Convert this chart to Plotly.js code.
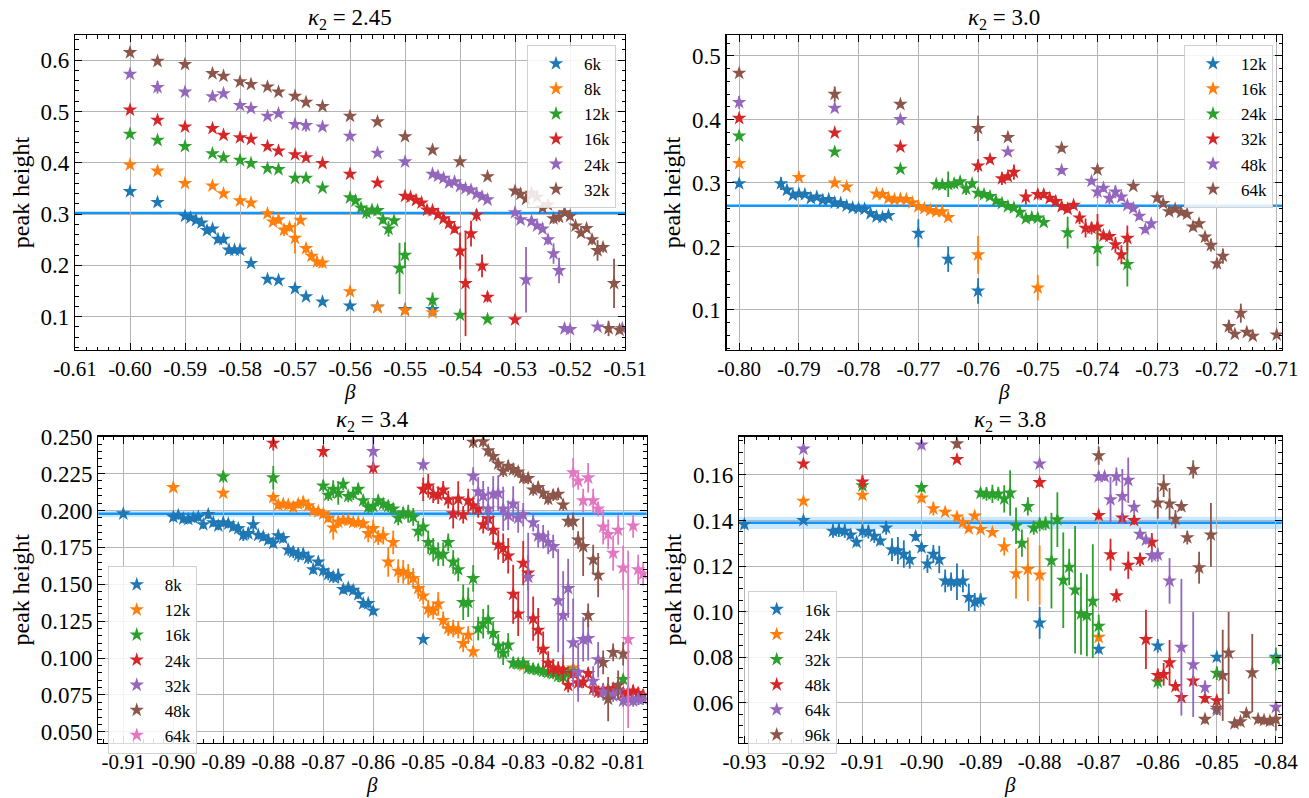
<!DOCTYPE html>
<html>
<head>
<meta charset="utf-8">
<script src="https://cdn.plot.ly/plotly-3.0.1.min.js"></script>
<style>html,body{margin:0;padding:0;background:#fff;}#chart{width:1309px;height:798px;}</style>
</head>
<body>
<div id="chart"></div>
<script>
// ---------------- data ----------------
const COLORS = ['#1f77b4','#ff7f0e','#2ca02c','#d62728','#9467bd','#8c564b','#e377c2'];

// Panel A : kappa2 = 2.45
const A_title = '<i>κ</i><sub>2</sub> = 2.45';
const A_labels = ['6k','8k','12k','16k','24k','32k'];
const A_ref = 0.302, A_refErr = 0.0015;
const A_6k_x = [-0.600,-0.595,-0.590,-0.589,-0.588,-0.587,-0.586,-0.585,-0.584,-0.583,-0.582,-0.581,-0.580,-0.578,-0.575,-0.573,-0.570,-0.568,-0.565,-0.560,-0.555,-0.550,-0.545];
const A_6k_y = [0.344,0.323,0.296,0.293,0.288,0.283,0.268,0.271,0.251,0.251,0.230,0.230,0.230,0.204,0.173,0.171,0.155,0.139,0.129,0.121,0.119,0.114,0.114];
const A_6k_e = [0.004,0.004,0.005,0.005,0.006,0.006,0.006,0.006,0.008,0.008,0.008,0.007,0.007,0.005,0.005,0.005,0.004,0.004,0.004,0.004,0.004,0.004,0.008];
const A_8k_x = [-0.600,-0.595,-0.590,-0.585,-0.583,-0.580,-0.578,-0.575,-0.574,-0.573,-0.572,-0.571,-0.570,-0.569,-0.568,-0.567,-0.566,-0.565,-0.560,-0.555,-0.550,-0.545];
const A_8k_y = [0.396,0.384,0.360,0.355,0.340,0.326,0.322,0.301,0.285,0.289,0.269,0.274,0.253,0.288,0.233,0.218,0.207,0.205,0.149,0.118,0.112,0.108];
const A_8k_e = [0.004,0.004,0.005,0.004,0.004,0.004,0.004,0.005,0.006,0.008,0.012,0.008,0.030,0.006,0.010,0.008,0.010,0.010,0.004,0.004,0.004,0.006];
const A_12k_x = [-0.600,-0.595,-0.590,-0.585,-0.583,-0.580,-0.578,-0.575,-0.573,-0.570,-0.568,-0.565,-0.560,-0.559,-0.558,-0.557,-0.556,-0.555,-0.554,-0.553,-0.552,-0.551,-0.550,-0.545,-0.540,-0.535];
const A_12k_y = [0.456,0.444,0.432,0.418,0.410,0.405,0.399,0.389,0.387,0.370,0.370,0.351,0.332,0.326,0.312,0.303,0.308,0.307,0.289,0.271,0.287,0.194,0.220,0.132,0.103,0.095];
const A_12k_e = [0.004,0.004,0.004,0.004,0.004,0.004,0.004,0.004,0.004,0.004,0.004,0.004,0.004,0.004,0.006,0.012,0.006,0.006,0.008,0.015,0.006,0.050,0.025,0.015,0.005,0.004];
const A_16k_x = [-0.600,-0.595,-0.590,-0.585,-0.583,-0.580,-0.578,-0.575,-0.573,-0.570,-0.568,-0.565,-0.560,-0.555,-0.550,-0.549,-0.548,-0.547,-0.546,-0.545,-0.544,-0.543,-0.542,-0.541,-0.540,-0.539,-0.538,-0.537,-0.536,-0.535,-0.530];
const A_16k_y = [0.503,0.483,0.470,0.467,0.454,0.449,0.446,0.432,0.423,0.416,0.410,0.399,0.378,0.361,0.335,0.333,0.327,0.322,0.308,0.307,0.299,0.291,0.282,0.271,0.228,0.165,0.262,0.298,0.199,0.138,0.094];
const A_16k_e = [0.005,0.004,0.004,0.004,0.004,0.004,0.004,0.004,0.004,0.004,0.004,0.004,0.004,0.004,0.005,0.005,0.005,0.005,0.006,0.006,0.006,0.006,0.007,0.008,0.036,0.103,0.025,0.012,0.022,0.010,0.005];
const A_24k_x = [-0.600,-0.595,-0.590,-0.585,-0.583,-0.580,-0.578,-0.575,-0.573,-0.570,-0.568,-0.565,-0.560,-0.555,-0.550,-0.545,-0.544,-0.543,-0.542,-0.541,-0.540,-0.539,-0.538,-0.537,-0.536,-0.535,-0.530,-0.529,-0.528,-0.527,-0.526,-0.525,-0.524,-0.523,-0.522,-0.521,-0.520,-0.515,-0.5105];
const A_24k_y = [0.573,0.547,0.538,0.529,0.535,0.512,0.506,0.491,0.496,0.475,0.473,0.470,0.452,0.419,0.402,0.378,0.374,0.370,0.361,0.363,0.354,0.350,0.347,0.339,0.334,0.328,0.303,0.289,0.172,0.286,0.277,0.271,0.250,0.223,0.190,0.077,0.075,0.080,0.077];
const A_24k_e = [0.005,0.012,0.005,0.008,0.005,0.005,0.006,0.005,0.005,0.005,0.012,0.005,0.004,0.004,0.005,0.005,0.004,0.004,0.004,0.004,0.004,0.004,0.004,0.004,0.004,0.004,0.005,0.006,0.064,0.005,0.005,0.006,0.010,0.020,0.025,0.004,0.004,0.004,0.004];
const A_32k_x = [-0.600,-0.595,-0.590,-0.585,-0.583,-0.580,-0.578,-0.575,-0.573,-0.570,-0.568,-0.565,-0.560,-0.555,-0.550,-0.545,-0.540,-0.535,-0.530,-0.529,-0.528,-0.527,-0.526,-0.525,-0.524,-0.523,-0.522,-0.521,-0.520,-0.519,-0.518,-0.517,-0.516,-0.515,-0.514,-0.513,-0.512,-0.511];
const A_32k_y = [0.615,0.598,0.592,0.574,0.569,0.558,0.553,0.548,0.538,0.530,0.518,0.510,0.491,0.480,0.451,0.425,0.402,0.373,0.345,0.339,0.329,0.341,0.333,0.312,0.318,0.291,0.294,0.303,0.296,0.277,0.263,0.272,0.250,0.229,0.235,0.077,0.165,0.074];
const A_32k_e = [0.004,0.004,0.004,0.004,0.004,0.004,0.004,0.004,0.004,0.004,0.004,0.004,0.004,0.004,0.004,0.004,0.004,0.004,0.005,0.004,0.004,0.004,0.004,0.006,0.005,0.010,0.010,0.006,0.006,0.006,0.006,0.006,0.010,0.020,0.010,0.015,0.048,0.006];

// Panel B : kappa2 = 3.0
const B_title = '<i>κ</i><sub>2</sub> = 3.0';
const B_labels = ['12k','16k','24k','32k','48k','64k'];
const B_ref = 0.2643, B_refErr = 0.0015;
const B_12k_x = [-0.800,-0.793,-0.792,-0.791,-0.790,-0.789,-0.788,-0.787,-0.786,-0.785,-0.784,-0.783,-0.782,-0.781,-0.780,-0.779,-0.778,-0.777,-0.776,-0.775,-0.770,-0.765,-0.760];
const B_12k_y = [0.299,0.299,0.289,0.281,0.283,0.282,0.276,0.278,0.273,0.274,0.269,0.268,0.264,0.261,0.260,0.259,0.252,0.247,0.246,0.249,0.221,0.180,0.130];
const B_12k_e = [0.005,0.010,0.006,0.004,0.004,0.004,0.004,0.004,0.004,0.004,0.004,0.004,0.004,0.004,0.004,0.004,0.004,0.004,0.004,0.004,0.022,0.020,0.020];
const B_16k_x = [-0.800,-0.790,-0.784,-0.782,-0.777,-0.776,-0.775,-0.774,-0.773,-0.772,-0.771,-0.770,-0.769,-0.768,-0.767,-0.766,-0.765,-0.760,-0.750];
const B_16k_y = [0.331,0.309,0.300,0.294,0.283,0.282,0.276,0.274,0.275,0.274,0.269,0.263,0.260,0.257,0.255,0.255,0.246,0.187,0.135];
const B_16k_e = [0.005,0.005,0.005,0.004,0.004,0.004,0.004,0.004,0.004,0.004,0.004,0.004,0.004,0.004,0.004,0.004,0.004,0.030,0.020];
const B_24k_x = [-0.800,-0.784,-0.773,-0.767,-0.766,-0.765,-0.764,-0.763,-0.762,-0.761,-0.760,-0.759,-0.758,-0.757,-0.756,-0.755,-0.754,-0.753,-0.752,-0.751,-0.750,-0.749,-0.745,-0.740,-0.735];
const B_24k_y = [0.374,0.349,0.322,0.298,0.297,0.298,0.299,0.302,0.291,0.299,0.284,0.282,0.279,0.272,0.268,0.263,0.261,0.254,0.244,0.246,0.245,0.238,0.222,0.197,0.172];
const B_24k_e = [0.004,0.004,0.004,0.008,0.006,0.020,0.008,0.006,0.010,0.006,0.004,0.004,0.004,0.004,0.004,0.004,0.004,0.004,0.005,0.005,0.005,0.004,0.025,0.028,0.035];
const B_32k_x = [-0.800,-0.784,-0.773,-0.760,-0.758,-0.756,-0.755,-0.754,-0.752,-0.750,-0.749,-0.748,-0.747,-0.746,-0.745,-0.744,-0.743,-0.742,-0.741,-0.740,-0.739,-0.738,-0.737,-0.736,-0.735];
const B_32k_y = [0.402,0.379,0.357,0.327,0.337,0.307,0.310,0.317,0.278,0.282,0.282,0.276,0.271,0.263,0.259,0.265,0.245,0.229,0.229,0.231,0.217,0.216,0.203,0.187,0.213];
const B_32k_e = [0.004,0.005,0.005,0.010,0.005,0.010,0.006,0.012,0.012,0.008,0.006,0.006,0.006,0.006,0.006,0.006,0.010,0.015,0.010,0.020,0.006,0.006,0.012,0.015,0.020];
const B_48k_x = [-0.800,-0.784,-0.773,-0.755,-0.746,-0.741,-0.740,-0.739,-0.738,-0.737,-0.736,-0.735,-0.734,-0.733,-0.732,-0.731];
const B_48k_y = [0.427,0.418,0.400,0.349,0.320,0.303,0.286,0.292,0.276,0.286,0.278,0.265,0.260,0.248,0.227,0.236];
const B_48k_e = [0.010,0.005,0.005,0.004,0.006,0.005,0.010,0.006,0.010,0.010,0.006,0.005,0.005,0.006,0.006,0.006];
const B_64k_x = [-0.800,-0.784,-0.773,-0.760,-0.755,-0.746,-0.740,-0.734,-0.730,-0.729,-0.728,-0.727,-0.726,-0.725,-0.724,-0.723,-0.722,-0.721,-0.720,-0.719,-0.718,-0.717,-0.716,-0.715,-0.714,-0.710];
const B_64k_y = [0.473,0.440,0.424,0.386,0.372,0.355,0.321,0.295,0.277,0.268,0.255,0.259,0.254,0.251,0.231,0.236,0.215,0.202,0.173,0.185,0.074,0.062,0.095,0.065,0.059,0.061];
const B_64k_e = [0.005,0.012,0.005,0.020,0.005,0.006,0.006,0.005,0.005,0.005,0.005,0.005,0.004,0.004,0.006,0.006,0.008,0.010,0.008,0.012,0.010,0.004,0.015,0.004,0.004,0.004];

// Panel C : kappa2 = 3.4
const C_title = '<i>κ</i><sub>2</sub> = 3.4';
const C_labels = ['8k','12k','16k','24k','32k','48k','64k'];
const C_ref = 0.1978, C_refErr = 0.0022;
const C_8k_x = [-0.910,-0.900,-0.899,-0.898,-0.897,-0.896,-0.895,-0.894,-0.893,-0.892,-0.891,-0.890,-0.889,-0.888,-0.887,-0.886,-0.885,-0.884,-0.883,-0.882,-0.881,-0.880,-0.879,-0.878,-0.877,-0.876,-0.875,-0.874,-0.873,-0.872,-0.871,-0.870,-0.869,-0.868,-0.867,-0.866,-0.865,-0.864,-0.863,-0.862,-0.861,-0.860,-0.850];
const C_8k_y = [0.1978,0.1956,0.1967,0.1944,0.1940,0.1950,0.1956,0.1904,0.1973,0.1918,0.1896,0.1918,0.1910,0.1890,0.1878,0.1833,0.1844,0.1904,0.1833,0.1822,0.1800,0.1778,0.1829,0.1811,0.1733,0.1718,0.1700,0.1704,0.1678,0.1600,0.1651,0.1593,0.1567,0.1549,0.1556,0.1465,0.1475,0.1460,0.1430,0.1370,0.1370,0.1320,0.1127];
const C_8k_e = [0.002,0.003,0.003,0.003,0.003,0.003,0.003,0.003,0.003,0.003,0.003,0.003,0.003,0.003,0.003,0.004,0.004,0.006,0.003,0.003,0.003,0.003,0.004,0.003,0.004,0.004,0.005,0.004,0.004,0.003,0.003,0.004,0.004,0.004,0.005,0.003,0.003,0.003,0.003,0.003,0.003,0.003,0.002];
const C_12k_x = [-0.900,-0.890,-0.880,-0.879,-0.878,-0.877,-0.876,-0.875,-0.874,-0.873,-0.872,-0.871,-0.870,-0.869,-0.868,-0.867,-0.866,-0.865,-0.864,-0.863,-0.862,-0.861,-0.860,-0.859,-0.858,-0.857,-0.856,-0.855,-0.854,-0.853,-0.852,-0.851,-0.850,-0.849,-0.848,-0.847,-0.846,-0.845,-0.844,-0.843,-0.842,-0.841,-0.840,-0.830,-0.820];
const C_12k_y = [0.2156,0.2118,0.2089,0.2038,0.2044,0.2038,0.2022,0.2044,0.2056,0.2033,0.2000,0.1993,0.1978,0.1949,0.1882,0.1922,0.1935,0.1933,0.1920,0.1920,0.1910,0.1844,0.1878,0.1816,0.1830,0.1651,0.1784,0.1589,0.1584,0.1567,0.1540,0.1473,0.1422,0.1333,0.1322,0.1367,0.1256,0.1200,0.1200,0.1193,0.1100,0.1156,0.1044,0.0949,0.0933];
const C_12k_e = [0.002,0.002,0.003,0.003,0.003,0.003,0.003,0.003,0.004,0.003,0.003,0.003,0.003,0.003,0.008,0.004,0.003,0.003,0.003,0.003,0.003,0.006,0.006,0.005,0.006,0.010,0.008,0.008,0.008,0.007,0.007,0.007,0.006,0.006,0.006,0.008,0.006,0.005,0.006,0.006,0.006,0.006,0.004,0.002,0.002];
const C_16k_x = [-0.890,-0.880,-0.870,-0.869,-0.868,-0.867,-0.866,-0.865,-0.864,-0.863,-0.862,-0.861,-0.860,-0.859,-0.858,-0.857,-0.856,-0.855,-0.854,-0.853,-0.852,-0.851,-0.850,-0.849,-0.848,-0.847,-0.846,-0.845,-0.844,-0.843,-0.842,-0.841,-0.840,-0.839,-0.838,-0.837,-0.836,-0.835,-0.834,-0.833,-0.832,-0.831,-0.830,-0.829,-0.828,-0.827,-0.826,-0.825,-0.824,-0.823,-0.822,-0.821,-0.820,-0.810];
const C_16k_y = [0.2229,0.2222,0.2167,0.2104,0.2144,0.2118,0.2178,0.2096,0.2111,0.2144,0.2067,0.2022,0.2029,0.2067,0.2044,0.2029,0.2011,0.1949,0.1984,0.1978,0.1956,0.1860,0.1889,0.1784,0.1733,0.1704,0.1704,0.1784,0.1651,0.1600,0.1378,0.1378,0.1540,0.1200,0.1233,0.1260,0.1167,0.1082,0.1033,0.1089,0.0967,0.0962,0.0967,0.0933,0.0927,0.0922,0.0911,0.0904,0.0896,0.0878,0.0873,0.0900,0.0911,0.0856];
const C_16k_e = [0.004,0.008,0.004,0.004,0.006,0.008,0.004,0.004,0.004,0.004,0.004,0.004,0.004,0.004,0.004,0.004,0.004,0.005,0.004,0.006,0.006,0.007,0.006,0.008,0.008,0.008,0.008,0.006,0.008,0.008,0.012,0.010,0.009,0.008,0.010,0.010,0.008,0.008,0.008,0.008,0.004,0.004,0.004,0.004,0.004,0.004,0.004,0.004,0.004,0.004,0.004,0.004,0.004,0.003];
const C_24k_x = [-0.880,-0.870,-0.860,-0.850,-0.849,-0.848,-0.847,-0.846,-0.845,-0.844,-0.843,-0.842,-0.841,-0.840,-0.839,-0.838,-0.837,-0.836,-0.835,-0.834,-0.833,-0.832,-0.831,-0.830,-0.829,-0.828,-0.827,-0.826,-0.825,-0.824,-0.823,-0.822,-0.821,-0.820,-0.819,-0.818,-0.817,-0.816,-0.815,-0.814,-0.813,-0.812,-0.811,-0.810,-0.809,-0.808,-0.807,-0.806];
const C_24k_y = [0.2456,0.2400,0.2289,0.2144,0.2167,0.2111,0.2104,0.2140,0.2073,0.1978,0.2078,0.1971,0.2067,0.2033,0.2011,0.1904,0.1944,0.1867,0.1767,0.1744,0.1693,0.1433,0.1300,0.1644,0.1578,0.1267,0.1189,0.1060,0.0967,0.0933,0.0927,0.0922,0.0816,0.0896,0.0833,0.0838,0.0896,0.0793,0.0771,0.0784,0.0789,0.0793,0.0778,0.0762,0.0771,0.0778,0.0762,0.0749];
const C_24k_e = [0.005,0.004,0.004,0.008,0.008,0.006,0.006,0.006,0.006,0.010,0.012,0.006,0.008,0.006,0.006,0.006,0.006,0.010,0.010,0.010,0.012,0.020,0.015,0.015,0.012,0.015,0.015,0.012,0.008,0.006,0.005,0.010,0.005,0.004,0.006,0.004,0.004,0.004,0.004,0.004,0.004,0.004,0.004,0.004,0.004,0.004,0.004,0.004];
const C_32k_x = [-0.860,-0.850,-0.840,-0.839,-0.838,-0.837,-0.836,-0.835,-0.834,-0.833,-0.832,-0.831,-0.830,-0.829,-0.828,-0.827,-0.826,-0.825,-0.824,-0.823,-0.822,-0.821,-0.820,-0.819,-0.818,-0.817,-0.816,-0.815,-0.814,-0.813,-0.812,-0.811,-0.810,-0.809,-0.808,-0.807,-0.806];
const C_32k_y = [0.2400,0.2311,0.2233,0.2127,0.2100,0.2011,0.2111,0.2118,0.2011,0.1967,0.2044,0.1949,0.1971,0.1549,0.1918,0.1829,0.1822,0.1784,0.1756,0.1389,0.1289,0.1473,0.1104,0.0904,0.1127,0.1133,0.0844,0.0989,0.0771,0.0756,0.0744,0.0778,0.0711,0.0722,0.0711,0.0722,0.0722];
const C_32k_e = [0.012,0.004,0.006,0.010,0.010,0.015,0.012,0.012,0.015,0.010,0.012,0.010,0.008,0.030,0.006,0.008,0.008,0.008,0.008,0.035,0.030,0.020,0.030,0.020,0.015,0.015,0.010,0.012,0.006,0.005,0.004,0.005,0.004,0.004,0.004,0.004,0.004];
const C_48k_x = [-0.840,-0.838,-0.837,-0.836,-0.835,-0.834,-0.833,-0.832,-0.831,-0.830,-0.829,-0.828,-0.827,-0.826,-0.825,-0.824,-0.823,-0.822,-0.821,-0.820,-0.819,-0.818,-0.817,-0.816,-0.815,-0.814,-0.813,-0.812,-0.811,-0.810];
const C_48k_y = [0.2463,0.2467,0.2405,0.2367,0.2316,0.2267,0.2300,0.2278,0.2262,0.2222,0.2218,0.2140,0.2156,0.2118,0.2078,0.2104,0.2111,0.2038,0.1927,0.1927,0.1800,0.1756,0.1289,0.1667,0.1562,0.0971,0.0722,0.1038,0.0816,0.1029];
const C_48k_e = [0.004,0.004,0.004,0.004,0.004,0.004,0.004,0.004,0.004,0.004,0.004,0.004,0.004,0.004,0.004,0.004,0.004,0.004,0.004,0.006,0.006,0.020,0.008,0.010,0.015,0.008,0.015,0.006,0.010,0.008];
const C_64k_x = [-0.820,-0.819,-0.818,-0.817,-0.816,-0.815,-0.814,-0.813,-0.812,-0.811,-0.810,-0.809,-0.808,-0.807,-0.806];
const C_64k_y = [0.2256,0.2200,0.2067,0.2222,0.2067,0.2011,0.1889,0.1838,0.1711,0.1867,0.1611,0.1127,0.1896,0.1600,0.1571];
const C_64k_e = [0.010,0.006,0.008,0.010,0.008,0.005,0.012,0.010,0.012,0.010,0.015,0.060,0.008,0.010,0.008];

// Panel D : kappa2 = 3.8
const D_title = '<i>κ</i><sub>2</sub> = 3.8';
const D_labels = ['16k','24k','32k','48k','64k','96k'];
const D_ref = 0.1390, D_refErr = 0.0027;
const D_16k_x = [-0.930,-0.920,-0.915,-0.914,-0.913,-0.912,-0.911,-0.910,-0.909,-0.908,-0.907,-0.906,-0.905,-0.904,-0.903,-0.902,-0.901,-0.900,-0.899,-0.898,-0.897,-0.896,-0.895,-0.894,-0.893,-0.892,-0.891,-0.890,-0.880,-0.870,-0.860,-0.850,-0.840];
const D_16k_y = [0.1383,0.1401,0.1354,0.1358,0.1354,0.1337,0.1305,0.1354,0.1351,0.1332,0.1311,0.1368,0.1272,0.1268,0.1253,0.1229,0.1330,0.1282,0.1210,0.1253,0.1229,0.1135,0.1132,0.1131,0.1135,0.1063,0.1042,0.1052,0.0951,0.0836,0.0850,0.0801,0.0801];
const D_16k_e = [0.002,0.001,0.003,0.003,0.003,0.002,0.002,0.003,0.003,0.003,0.002,0.003,0.005,0.006,0.006,0.004,0.002,0.002,0.004,0.004,0.006,0.005,0.004,0.008,0.005,0.006,0.004,0.003,0.007,0.002,0.003,0.002,0.002];
const D_24k_x = [-0.920,-0.910,-0.900,-0.898,-0.896,-0.894,-0.893,-0.892,-0.891,-0.890,-0.888,-0.886,-0.884,-0.882,-0.880,-0.870];
const D_24k_y = [0.1485,0.1512,0.1499,0.1452,0.1437,0.1416,0.1391,0.1365,0.1420,0.1361,0.1348,0.1286,0.1167,0.1186,0.1161,0.0888];
const D_24k_e = [0.001,0.002,0.002,0.003,0.001,0.001,0.001,0.001,0.001,0.001,0.001,0.004,0.011,0.014,0.013,0.002];
const D_32k_x = [-0.910,-0.900,-0.890,-0.889,-0.888,-0.887,-0.886,-0.885,-0.884,-0.883,-0.882,-0.881,-0.880,-0.879,-0.878,-0.877,-0.876,-0.875,-0.874,-0.873,-0.872,-0.871,-0.870,-0.860,-0.850,-0.840];
const D_32k_y = [0.1553,0.1545,0.1521,0.1517,0.1517,0.1517,0.1495,0.1521,0.1377,0.1301,0.1462,0.1368,0.1383,0.1387,0.1224,0.1404,0.1138,0.1196,0.1096,0.0991,0.0984,0.1046,0.0937,0.0692,0.0730,0.0793];
const D_32k_e = [0.002,0.002,0.002,0.003,0.004,0.003,0.006,0.010,0.008,0.006,0.004,0.003,0.003,0.003,0.021,0.012,0.021,0.008,0.028,0.018,0.018,0.025,0.005,0.003,0.003,0.005];
const D_48k_x = [-0.920,-0.910,-0.894,-0.880,-0.870,-0.868,-0.867,-0.866,-0.865,-0.864,-0.863,-0.862,-0.861,-0.860,-0.859,-0.858,-0.857,-0.856,-0.854,-0.852,-0.850];
const D_48k_y = [0.1649,0.1570,0.1668,0.1567,0.1423,0.1250,0.1070,0.1412,0.1204,0.1401,0.1229,0.0879,0.1305,0.0721,0.0725,0.0776,0.0672,0.0624,0.0696,0.0620,0.0610];
const D_48k_e = [0.001,0.003,0.001,0.002,0.002,0.007,0.003,0.002,0.006,0.002,0.003,0.013,0.004,0.003,0.005,0.010,0.002,0.001,0.002,0.002,0.002];
const D_64k_x = [-0.920,-0.900,-0.880,-0.870,-0.869,-0.868,-0.867,-0.866,-0.865,-0.864,-0.863,-0.862,-0.861,-0.860,-0.858,-0.856,-0.854,-0.852,-0.850,-0.840];
const D_64k_y = [0.1714,0.1732,0.1649,0.1593,0.1593,0.1492,0.1593,0.1506,0.1577,0.1459,0.1340,0.1315,0.1247,0.1250,0.1135,0.0844,0.0768,0.0668,0.0567,0.0581];
const D_64k_e = [0.001,0.002,0.001,0.002,0.002,0.010,0.004,0.012,0.010,0.003,0.002,0.002,0.003,0.003,0.010,0.030,0.023,0.003,0.002,0.001];
const D_96k_x = [-0.894,-0.870,-0.860,-0.859,-0.858,-0.857,-0.856,-0.855,-0.854,-0.853,-0.852,-0.851,-0.850,-0.849,-0.848,-0.847,-0.846,-0.845,-0.844,-0.843,-0.842,-0.841,-0.840];
const D_96k_y = [0.1737,0.1685,0.1478,0.1553,0.1473,0.1406,0.1462,0.1325,0.1624,0.1193,0.0528,0.1337,0.0577,0.0721,0.0819,0.0509,0.0517,0.0553,0.0732,0.0528,0.0524,0.0520,0.0528];
const D_96k_e = [0.002,0.004,0.007,0.005,0.007,0.004,0.002,0.003,0.004,0.007,0.002,0.014,0.003,0.020,0.018,0.002,0.002,0.002,0.017,0.002,0.002,0.002,0.005];

// Tick labels
const A_xticks = [-0.61,-0.60,-0.59,-0.58,-0.57,-0.56,-0.55,-0.54,-0.53,-0.52,-0.51];
const A_xlabels = ['-0.61','-0.60','-0.59','-0.58','-0.57','-0.56','-0.55','-0.54','-0.53','-0.52','-0.51'];
const A_yticks = [0.1,0.2,0.3,0.4,0.5,0.6];
const A_ylabels = ['0.1','0.2','0.3','0.4','0.5','0.6'];
const B_xticks = [-0.80,-0.79,-0.78,-0.77,-0.76,-0.75,-0.74,-0.73,-0.72,-0.71];
const B_xlabels = ['-0.80','-0.79','-0.78','-0.77','-0.76','-0.75','-0.74','-0.73','-0.72','-0.71'];
const B_yticks = [0.1,0.2,0.3,0.4,0.5];
const B_ylabels = ['0.1','0.2','0.3','0.4','0.5'];
const C_xticks = [-0.91,-0.90,-0.89,-0.88,-0.87,-0.86,-0.85,-0.84,-0.83,-0.82,-0.81];
const C_xlabels = ['-0.91','-0.90','-0.89','-0.88','-0.87','-0.86','-0.85','-0.84','-0.83','-0.82','-0.81'];
const C_yticks = [0.050,0.075,0.100,0.125,0.150,0.175,0.200,0.225,0.250];
const C_ylabels = ['0.050','0.075','0.100','0.125','0.150','0.175','0.200','0.225','0.250'];
const D_xticks = [-0.93,-0.92,-0.91,-0.90,-0.89,-0.88,-0.87,-0.86,-0.85,-0.84];
const D_xlabels = ['-0.93','-0.92','-0.91','-0.90','-0.89','-0.88','-0.87','-0.86','-0.85','-0.84'];
const D_yticks = [0.06,0.08,0.10,0.12,0.14,0.16];
const D_ylabels = ['0.06','0.08','0.10','0.12','0.14','0.16'];

// ---------------- build ----------------
const FONT = 'Liberation Serif, Times New Roman, serif';
const panels = [
  {xa:'x', ya:'y', leg:'legend', labels:A_labels, title:A_title, ref:A_ref, refErr:A_refErr,
   series:[[A_6k_x,A_6k_y,A_6k_e],[A_8k_x,A_8k_y,A_8k_e],[A_12k_x,A_12k_y,A_12k_e],[A_16k_x,A_16k_y,A_16k_e],[A_24k_x,A_24k_y,A_24k_e],[A_32k_x,A_32k_y,A_32k_e]]},
  {xa:'x2', ya:'y2', leg:'legend2', labels:B_labels, title:B_title, ref:B_ref, refErr:B_refErr,
   series:[[B_12k_x,B_12k_y,B_12k_e],[B_16k_x,B_16k_y,B_16k_e],[B_24k_x,B_24k_y,B_24k_e],[B_32k_x,B_32k_y,B_32k_e],[B_48k_x,B_48k_y,B_48k_e],[B_64k_x,B_64k_y,B_64k_e]]},
  {xa:'x3', ya:'y3', leg:'legend3', labels:C_labels, title:C_title, ref:C_ref, refErr:C_refErr,
   series:[[C_8k_x,C_8k_y,C_8k_e],[C_12k_x,C_12k_y,C_12k_e],[C_16k_x,C_16k_y,C_16k_e],[C_24k_x,C_24k_y,C_24k_e],[C_32k_x,C_32k_y,C_32k_e],[C_48k_x,C_48k_y,C_48k_e],[C_64k_x,C_64k_y,C_64k_e]]},
  {xa:'x4', ya:'y4', leg:'legend4', labels:D_labels, title:D_title, ref:D_ref, refErr:D_refErr,
   series:[[D_16k_x,D_16k_y,D_16k_e],[D_24k_x,D_24k_y,D_24k_e],[D_32k_x,D_32k_y,D_32k_e],[D_48k_x,D_48k_y,D_48k_e],[D_64k_x,D_64k_y,D_64k_e],[D_96k_x,D_96k_y,D_96k_e]]}
];

const traces = [];
const shapes = [];
panels.forEach(p => {
  shapes.push({type:'rect', xref: p.xa + ' domain', yref: p.ya, x0:0, x1:1,
    y0: p.ref - p.refErr, y1: p.ref + p.refErr, fillcolor:'rgba(110,190,255,0.35)', line:{width:0}, layer:'below'});
  shapes.push({type:'line', xref: p.xa + ' domain', yref: p.ya, x0:0, x1:1,
    y0: p.ref, y1: p.ref, line:{color:'rgb(15,150,255)', width:2.5}, layer:'below'});
  p.series.forEach((s, i) => {
    traces.push({
      type:'scatter', mode:'markers', x:s[0], y:s[1], name:p.labels[i],
      xaxis:p.xa, yaxis:p.ya, legend:p.leg, cliponaxis:true,
      marker:{symbol:'star', size:11, color:COLORS[i], line:{width:0}},
      error_y:{type:'data', array:s[2], visible:true, color:COLORS[i], thickness:1.8, width:0}
    });
  });
});

function xaxis(domain, range, vals, texts, anchor, minorDt) {
  return {domain, range, anchor, tickmode:'array', tickvals:vals, ticktext:texts, tickangle:0,
    ticks:'inside', ticklen:7, tickwidth:1, tickcolor:'#000', mirror:'allticks',
    showline:true, linecolor:'#000', linewidth:1.2, showgrid:true, gridcolor:'#b5b5b5', gridwidth:1,
    zeroline:false, minor:{tickmode:'linear', tick0:0, dtick:minorDt, ticks:'inside', ticklen:3.5, tickcolor:'#000', showgrid:false},
    tickfont:{family:FONT, size:21, color:'#000'},
    title:{text:''}};
}
function yaxis(domain, range, vals, texts, anchor, minorDt) {
  return {domain, range, anchor, tickmode:'array', tickvals:vals, ticktext:texts, tickangle:0,
    ticks:'inside', ticklen:7, tickwidth:1, tickcolor:'#000', mirror:'allticks',
    showline:true, linecolor:'#000', linewidth:1.2, showgrid:true, gridcolor:'#b5b5b5', gridwidth:1,
    zeroline:false, minor:{tickmode:'linear', tick0:0, dtick:minorDt, ticks:'inside', ticklen:3.5, tickcolor:'#000', showgrid:false},
    tickfont:{family:FONT, size:23, color:'#000'},
    title:{text:'peak height', font:{family:FONT, size:24, color:'#000'}, standoff:4}};
}

const legendStyle = (x, y) => ({x, y, xanchor:'left', yanchor:'top', xref:'paper', yref:'paper',
  bgcolor:'rgba(255,255,255,0.85)', bordercolor:'#d0d0d0', borderwidth:1,
  font:{family:FONT, size:17, color:'#000'}, tracegroupgap:0, itemwidth:46});

const titleAnn = (x, y, text) => ({x, y, xref:'paper', yref:'paper', xanchor:'center', yanchor:'bottom',
  text, showarrow:false, font:{family:FONT, size:23, color:'#000'}, yshift:0});
const xTitleAnn = (x, y) => ({x, y, xref:'paper', yref:'paper', xanchor:'center', yanchor:'middle',
  text:'<i>β</i>', showarrow:false, font:{family:FONT, size:21, color:'#000'}});

const botDom = [0.0690, 0.4528];
const layout = {
  width:1309, height:798, margin:{l:0, r:0, t:0, b:0},
  paper_bgcolor:'#fff', plot_bgcolor:'#fff', showlegend:true,
  font:{family:FONT, color:'#000'},
  xaxis:  xaxis([0.0573,0.4775], [-0.61,-0.51], A_xticks, A_xlabels, 'y', 0.002),
  yaxis:  yaxis([0.5614,0.9561], [0.035,0.649], A_yticks, A_ylabels, 'x', 0.02),
  xaxis2: xaxis([0.5551,0.9794], [-0.8021,-0.7091], B_xticks, B_xlabels, 'y2', 0.002),
  yaxis2: yaxis([0.5614,0.9561], [0.037,0.533], B_yticks, B_ylabels, 'x2', 0.02),
  xaxis3: xaxis([0.0751,0.4940], [-0.915,-0.8053], C_xticks, C_xlabels, 'y3', 0.002),
  yaxis3: yaxis(botDom, [0.0425,0.25], C_yticks, C_ylabels, 'x3', 0.005),
  xaxis4: xaxis([0.5646,0.9792], [-0.9309,-0.839], D_xticks, D_xlabels, 'y4', 0.002),
  yaxis4: yaxis(botDom, [0.0424,0.1768], D_yticks, D_ylabels, 'x4', 0.005),
  legend:  legendStyle(0.4026, 0.9436),
  legend2: legendStyle(0.9045, 0.9436),
  legend3: legendStyle(0.0823, 0.2907),
  legend4: legendStyle(0.5712, 0.2598),
  shapes,
  annotations:[
    titleAnn((0.0573+0.4775)/2, 0.9561, A_title),
    titleAnn((0.5551+0.9794)/2, 0.9561, B_title),
    titleAnn((0.0751+0.4940)/2, 0.4528, C_title),
    titleAnn((0.5646+0.9792)/2, 0.4528, D_title),
    xTitleAnn((0.0573+0.4775)/2, 0.5085),
    xTitleAnn((0.5551+0.9794)/2, 0.5085),
    xTitleAnn((0.0751+0.4940)/2, 0.0160),
    xTitleAnn((0.5646+0.9792)/2, 0.0160)
  ]
};

Plotly.newPlot('chart', traces, layout, {staticPlot:true, displayModeBar:false});
</script>
</body>
</html>
